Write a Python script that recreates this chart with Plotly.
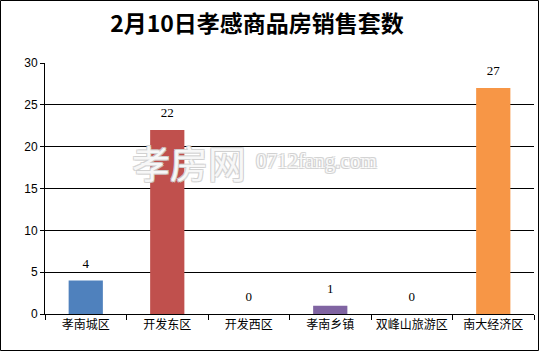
import plotly.graph_objects as go

categories = ["孝南城区", "开发东区", "开发西区", "孝南乡镇", "双峰山旅游区", "南大经济区"]
values = [4, 22, 0, 1, 0, 27]
colors = ["#4F81BD", "#C0504D", "#9BBB59", "#8064A2", "#4BACC6", "#F79646"]
title_text = "2月10日孝感商品房销售套数"

fig = go.Figure()
fig.add_trace(go.Bar(
    x=categories, y=values, marker=dict(color=colors, line=dict(width=0)),
    width=0.42, showlegend=False, hoverinfo="x+y",
))
fig.add_trace(go.Scatter(
    x=categories, y=values, mode="markers+text", text=[str(v) for v in values],
    textposition="top center", marker=dict(size=14, opacity=0),
    textfont=dict(family="Liberation Serif, DejaVu Serif, serif", size=13, color="#000"),
    cliponaxis=False, showlegend=False, hoverinfo="skip",
))

L, R, T, B = 45, 6, 63, 38
W, H = 540, 352
pw, ph = W - L - R, H - T - B

def px(x):
    return (x - L) / pw

def py(y):
    return (H - B - y) / ph

outline = "1px 1px 0 #d0d0d0, -1px -1px 0 #d0d0d0, 1px -1px 0 #d0d0d0, -1px 1px 0 #d0d0d0"

fig.update_layout(
    width=W, height=H,
    margin=dict(l=L, r=R, t=T, b=B, autoexpand=False),
    paper_bgcolor="white", plot_bgcolor="white",
    title=dict(text=title_text, x=px(257), xref="paper", xanchor="center",
               y=1 - 24 / H, yanchor="middle",
               font=dict(family="Noto Sans CJK SC", size=23, color="#000", weight="bold")),
    xaxis=dict(type="category", showline=True, linecolor="#000", linewidth=1,
               ticks="outside", tickson="boundaries", ticklen=5, tickcolor="#000",
               showgrid=False, tickangle=0, automargin=False,
               tickfont=dict(family="Noto Sans CJK SC", size=12, color="#000")),
    yaxis=dict(range=[0, 30], dtick=5, showline=True, linecolor="#000", linewidth=1,
               ticks="outside", ticklen=4, tickcolor="#000", automargin=False,
               showgrid=True, gridcolor="#000", gridwidth=1, zeroline=False,
               tickfont=dict(family="Liberation Sans, Arial, sans-serif", size=12, color="#000")),
    shapes=[dict(type="rect", xref="paper", yref="paper",
                 x0=px(0.5), x1=px(538.5), y0=py(350.5), y1=py(0.5),
                 line=dict(color="#000", width=1), layer="above")],
    annotations=[
        dict(text="孝房网", xref="paper", yref="paper", x=px(130), y=py(161),
             xanchor="left", yanchor="middle", showarrow=False,
             font=dict(family="Noto Sans CJK SC", size=38, color="rgba(255,255,255,0.85)",
                       shadow=outline)),
        dict(text="0712fang.com", xref="paper", yref="paper", x=px(254), y=py(161),
             xanchor="left", yanchor="middle", showarrow=False,
             font=dict(family="Liberation Serif, serif", size=21, color="rgba(255,255,255,0.85)",
                       shadow=outline)),
    ],
)

fig.write_html("out.html")
